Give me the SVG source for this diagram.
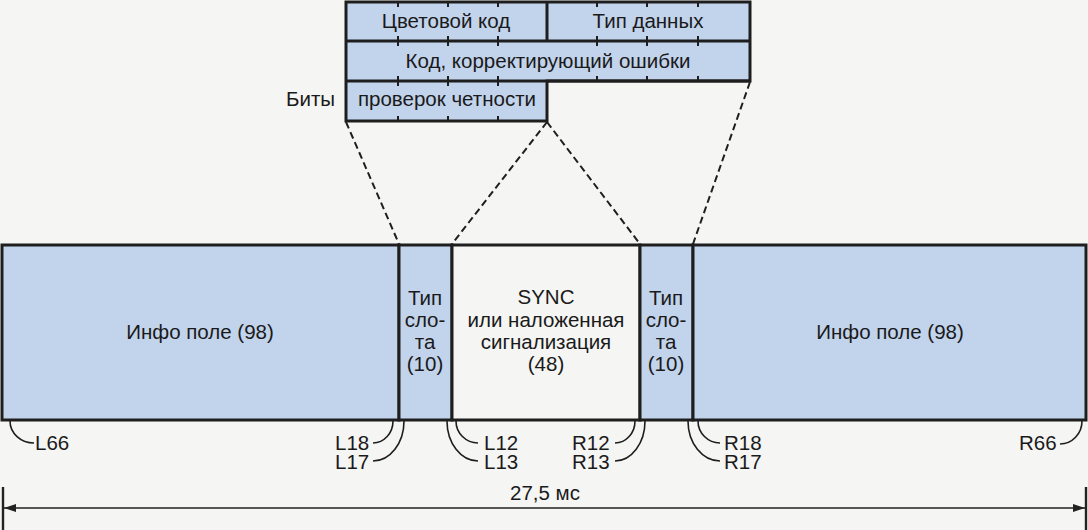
<svg xmlns="http://www.w3.org/2000/svg" width="1088" height="530" viewBox="0 0 1088 530">
<defs>
<marker id="arr" viewBox="0 0 12 8" refX="12" refY="4" markerWidth="12" markerHeight="8" markerUnits="userSpaceOnUse" orient="auto-start-reverse">
<path d="M0,0 L12,4 L0,8 Z" fill="#222"/>
</marker>
</defs>
<style>
text{font-family:"Liberation Sans",Arial,sans-serif;font-size:20.5px;fill:#1a1a1a}
.c{text-anchor:middle}
.blue{fill:#c2d3ec;stroke:#1e1e1e;stroke-width:3}
.white{fill:#f5f5f3;stroke:#1e1e1e;stroke-width:3}
.ln{fill:none;stroke:#1e1e1e;stroke-width:3}
.tk{fill:none;stroke:#1e1e1e;stroke-width:2}
.dash{fill:none;stroke:#1e1e1e;stroke-width:2;stroke-dasharray:7 4}
.arc{fill:none;stroke:#1e1e1e;stroke-width:1.6}
.dim{fill:none;stroke:#222;stroke-width:1.6}
.end{fill:none;stroke:#222;stroke-width:2.4}
</style>
<rect width="1088" height="530" fill="#f5f5f3"/>

<g id="bits">
<path class="blue" d="M346,2 H750 V81 H547 V121 H346 Z"/>
<line class="ln" x1="346" y1="41" x2="750" y2="41"/>
<line class="ln" x1="346" y1="81" x2="750" y2="81"/>
<line class="ln" x1="547" y1="2" x2="547" y2="41"/>
<path class="tk" d="M398,2V7M448,2V7M498,2V7M597,2V7M647,2V7M698,2V7
M398,36V46M448,36V46M498,36V46M597,36V46M647,36V46M698,36V46
M398,76V86M448,76V86M498,76V86M597,76V81M647,76V81M698,76V81
M398,116V121M448,116V121M498,116V121"/>
<text class="c" x="446" y="28">Цветовой код</text>
<text class="c" x="648" y="28">Тип данных</text>
<text class="c" x="548" y="68">Код, корректирующий ошибки</text>
<text class="c" x="447" y="106">проверок четности</text>
<text x="286" y="106">Биты</text>
</g>

<g id="info-left">
<rect class="blue" x="2" y="245" width="397" height="175"/>
<text class="c" x="200" y="339">Инфо поле (98)</text>
</g>
<g id="slot-left">
<rect class="blue" x="399" y="245" width="53" height="175"/>
<text class="c" x="425" y="305">Тип</text>
<text class="c" x="425" y="327">сло-</text>
<text class="c" x="425" y="349">та</text>
<text class="c" x="425" y="371">(10)</text>
</g>
<g id="sync">
<rect class="white" x="452" y="245" width="188" height="175"/>
<text class="c" x="546" y="304">SYNC</text>
<text class="c" x="546" y="327">или наложенная</text>
<text class="c" x="546" y="349">сигнализация</text>
<text class="c" x="546" y="371">(48)</text>
</g>
<g id="slot-right">
<rect class="blue" x="640" y="245" width="53" height="175"/>
<text class="c" x="666" y="305">Тип</text>
<text class="c" x="666" y="327">сло-</text>
<text class="c" x="666" y="349">та</text>
<text class="c" x="666" y="371">(10)</text>
</g>
<g id="info-right">
<rect class="blue" x="693" y="245" width="393" height="175"/>
<text class="c" x="890" y="339">Инфо поле (98)</text>
</g>

<g id="connectors">
<line class="dash" x1="346" y1="122" x2="399" y2="244"/>
<line class="dash" x1="547" y1="122" x2="452" y2="244"/>
<line class="dash" x1="547" y1="122" x2="640" y2="244"/>
<line class="dash" x1="750" y1="82" x2="693" y2="244"/>

<path class="arc" d="M10,421 A24 22 0 0 0 34 443"/>
<path class="arc" d="M393,421 A20 22 0 0 1 373 443"/>
<path class="arc" d="M404,421 A31 40 0 0 1 373 461"/>
<path class="arc" d="M456,421 A22 22 0 0 0 478 443"/>
<path class="arc" d="M447,421 A31 40 0 0 0 478 461"/>
<path class="arc" d="M635,421 A20 22 0 0 1 615 443"/>
<path class="arc" d="M645,421 A30 40 0 0 1 615 461"/>
<path class="arc" d="M698,421 A22 22 0 0 0 720 443"/>
<path class="arc" d="M688,421 A32 40 0 0 0 720 461"/>
<path class="arc" d="M1082,421 A22 23 0 0 1 1060 444"/>

<line class="end" x1="3" y1="487" x2="3" y2="530"/>
<line class="end" x1="1086" y1="487" x2="1086" y2="530"/>
<line class="dim" x1="4" y1="508" x2="1085" y2="508" marker-start="url(#arr)" marker-end="url(#arr)"/>
</g>

<g id="labels">
<text x="35" y="450">L66</text>
<text x="335" y="450">L18</text>
<text x="335" y="469">L17</text>
<text x="484" y="450">L12</text>
<text x="484" y="469">L13</text>
<text x="572" y="450">R12</text>
<text x="572" y="469">R13</text>
<text x="724" y="450">R18</text>
<text x="724" y="469">R17</text>
<text x="1019" y="450">R66</text>
<text class="c" x="545" y="500">27,5 мс</text>
</g>
</svg>
